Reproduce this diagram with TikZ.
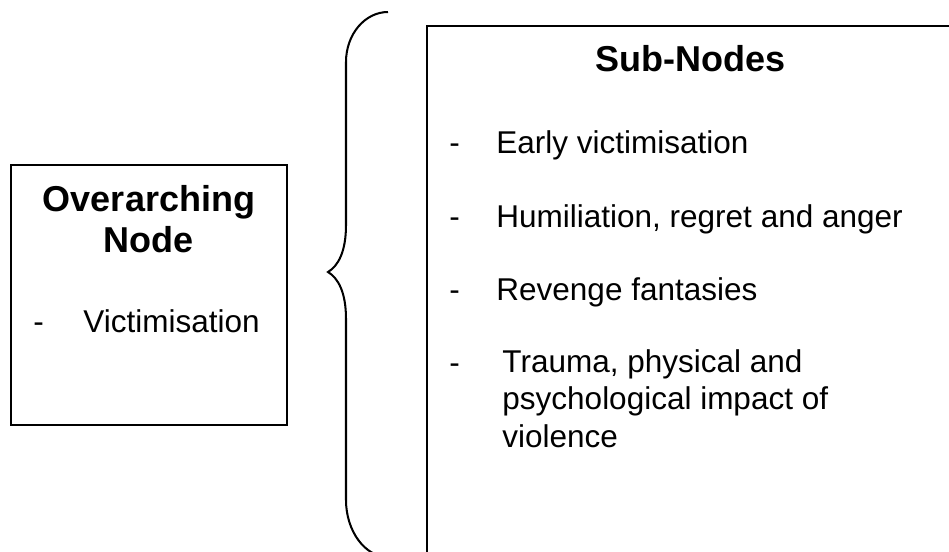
\documentclass[tikz,border=0pt]{standalone}
\usepackage{fontspec}
\setmainfont{Liberation Sans}
\usetikzlibrary{calc}
\tikzset{x=0.4444pt, y=-0.4444pt,
    node box/.style={draw=black, line width=0.9pt, inner sep=0pt},
    node title/.style={font=\fontsize{16}{18.4}\selectfont\bfseries, anchor=base, inner sep=0pt},
    node item/.style={font=\fontsize{14}{16.6}\selectfont, anchor=base west, inner sep=0pt, align=left},
    brace line/.style={draw=black, line width=0.9pt}
    }
% #1 name, #2 dash baseline, #3 text x, #4 baseline of last text line, #5 text
\def\SubItem#1#2#3#4#5{%
\node[node item] (dash#1) at (449,#2) {-};
\node[node item] (item#1) at (#3,#4) {#5};
}

\begin{document}
\begin{tikzpicture}
\useasboundingbox (0,0) rectangle (949,551);
\clip (0,0) rectangle (949,551);
% the two boxes
\node[node box, minimum width=122.7pt, minimum height=115.6pt] (Overarching) at (149,295) {};
\node[node box, minimum width=241.3pt, minimum height=264pt] (SubNodes) at (698.5,323) {};
% left box text
\node[node title] (OverTitle) at (149,211) {Overarching};
\node[node title] (OverTitleB) at (149,252) {Node};
\node[node item] (dashV) at (33,332) {-};
\node[node item] (itemV) at (83,332) {Victimisation};
% right box text
\node[node title] (SubTitle) at (690.5,71) {Sub-Nodes};
\SubItem{1}{153}{496}{153}{Early victimisation}
\SubItem{2}{227}{496}{227}{Humiliation, regret and anger}
\SubItem{3}{300}{496}{300}{Revenge fantasies}
\SubItem{4}{373}{502}{447}{Trauma, physical and\\psychological impact of\\violence}
% the brace
\coordinate (BraceTop) at (388,12);
\coordinate (BraceTip) at (328,272);
\coordinate (BraceEnd) at (388,557);
\draw[brace line] (BraceTop) .. controls (364.8,12) and (346,34.4) .. (346,62)
  -- (346,225) .. controls (346,252) and (338,266) .. (BraceTip)
  .. controls (338,278) and (346,292) .. (346,319)
  -- (346,500) .. controls (346,531) and (365,557) .. (BraceEnd);
\end{tikzpicture}
\end{document}
